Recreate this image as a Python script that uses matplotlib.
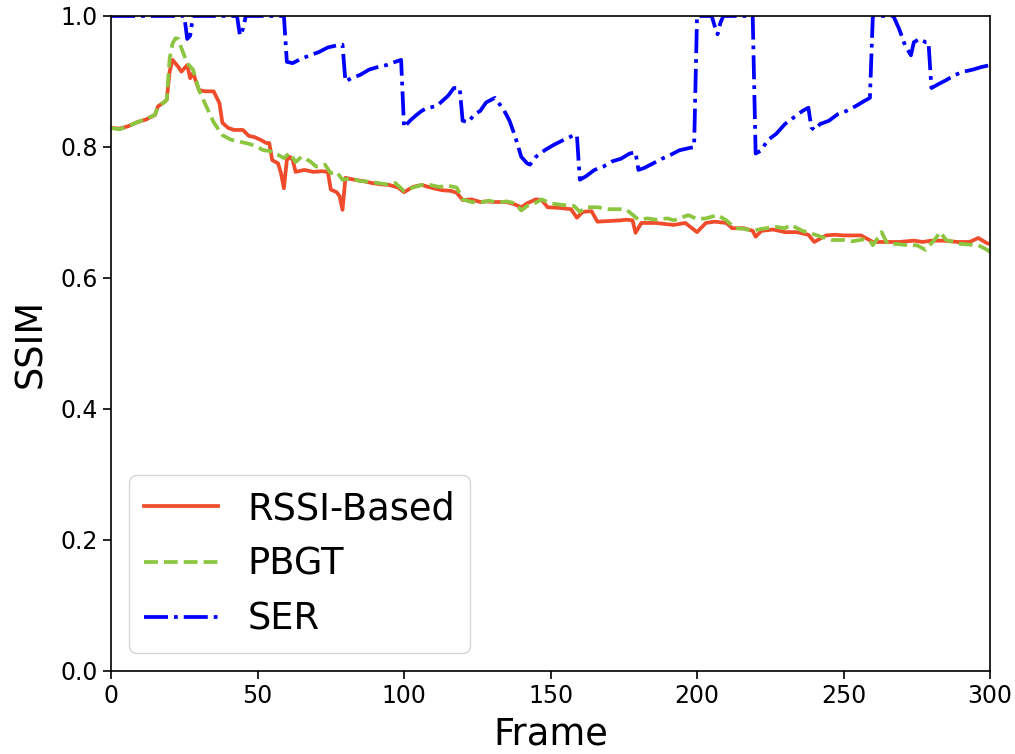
import matplotlib
matplotlib.use("Agg")
import matplotlib.pyplot as plt

# frame index / SSIM samples
rssi_frames = [0, 3, 6, 9, 12, 15, 16, 18, 19, 20, 21, 23, 24, 26, 27, 28, 30, 32, 35, 37,
               38, 40, 42, 45, 47, 49, 51, 53, 54, 55, 57, 58, 59, 60, 61, 62, 63, 66, 69, 72,
               74, 75, 77, 78, 79, 80, 83, 86, 89, 92, 95, 98, 100, 103, 106, 110, 113, 116, 118, 120,
               123, 126, 128, 131, 135, 138, 140, 142, 145, 147, 149, 153, 157, 159, 161, 164, 166, 170, 174, 176,
               178, 179, 181, 186, 192, 196, 200, 203, 206, 210, 212, 216, 219, 220, 222, 226, 230, 234, 238, 240,
               244, 247, 250, 256, 260, 265, 269, 274, 277, 280, 284, 289, 293, 296, 299, 300]
rssi_ssim = [0.829, 0.828, 0.832, 0.838, 0.842, 0.849, 0.862, 0.868, 0.872, 0.915, 0.933, 0.922, 0.915, 0.925, 0.905, 0.913, 0.887, 0.885, 0.885, 0.867,
             0.837, 0.829, 0.826, 0.826, 0.817, 0.815, 0.811, 0.806, 0.806, 0.780, 0.775, 0.760, 0.737, 0.780, 0.785, 0.780, 0.762, 0.765, 0.762, 0.763,
             0.762, 0.735, 0.731, 0.725, 0.704, 0.753, 0.750, 0.748, 0.745, 0.743, 0.742, 0.738, 0.731, 0.739, 0.742, 0.737, 0.734, 0.733, 0.730, 0.719,
             0.720, 0.716, 0.717, 0.716, 0.716, 0.712, 0.708, 0.714, 0.720, 0.719, 0.708, 0.707, 0.705, 0.692, 0.701, 0.702, 0.686, 0.687, 0.688, 0.689,
             0.688, 0.669, 0.684, 0.684, 0.681, 0.684, 0.670, 0.684, 0.686, 0.684, 0.676, 0.676, 0.672, 0.663, 0.672, 0.674, 0.670, 0.670, 0.666, 0.655,
             0.665, 0.666, 0.665, 0.665, 0.655, 0.655, 0.655, 0.657, 0.655, 0.657, 0.657, 0.655, 0.655, 0.661, 0.653, 0.652]

pbgt_frames = [0, 3, 6, 9, 12, 15, 16, 18, 19, 20, 21, 22, 23, 24, 26, 28, 30, 32, 35, 38,
               41, 44, 47, 50, 52, 54, 57, 59, 61, 63, 65, 68, 70, 73, 75, 77, 79, 82, 85, 88,
               91, 94, 97, 100, 103, 106, 109, 112, 115, 118, 120, 123, 126, 129, 132, 135, 138, 140, 142, 145,
               147, 150, 153, 158, 160, 162, 166, 170, 174, 176, 180, 183, 186, 190, 192, 197, 200, 203, 207, 210,
               213, 216, 219, 222, 227, 230, 232, 236, 239, 243, 246, 250, 253, 257, 259, 260, 263, 265, 268, 272,
               275, 278, 281, 283, 285, 290, 296, 299, 300]
pbgt_ssim = [0.829, 0.827, 0.832, 0.838, 0.843, 0.849, 0.862, 0.868, 0.872, 0.935, 0.958, 0.966, 0.965, 0.951, 0.928, 0.918, 0.887, 0.867, 0.838, 0.818,
             0.811, 0.808, 0.805, 0.800, 0.795, 0.794, 0.788, 0.783, 0.791, 0.777, 0.785, 0.778, 0.770, 0.773, 0.760, 0.762, 0.750, 0.752, 0.748, 0.747,
             0.745, 0.743, 0.745, 0.733, 0.738, 0.742, 0.742, 0.739, 0.741, 0.738, 0.720, 0.716, 0.715, 0.718, 0.715, 0.717, 0.714, 0.703, 0.710, 0.715,
             0.720, 0.714, 0.712, 0.710, 0.701, 0.708, 0.708, 0.705, 0.705, 0.704, 0.689, 0.691, 0.689, 0.691, 0.688, 0.696, 0.690, 0.691, 0.696, 0.688,
             0.676, 0.675, 0.672, 0.675, 0.678, 0.676, 0.681, 0.672, 0.668, 0.662, 0.658, 0.658, 0.656, 0.659, 0.657, 0.650, 0.670, 0.652, 0.652, 0.650,
             0.650, 0.643, 0.658, 0.670, 0.658, 0.652, 0.650, 0.643, 0.640]

ser_frames = [0, 25, 26, 27, 28, 43, 44, 45, 46, 59, 60, 62, 65, 68, 71, 74, 77, 79, 80, 82,
              85, 88, 91, 94, 97, 99, 100, 102, 104, 106, 108, 111, 113, 115, 117, 119, 120, 122, 124, 126,
              128, 131, 134, 136, 138, 140, 142, 143, 145, 148, 151, 155, 158, 159, 160, 162, 165, 168, 171, 174,
              177, 179, 180, 182, 185, 188, 191, 194, 197, 199, 200, 205, 206, 207, 208, 209, 219, 220, 222, 224,
              227, 230, 233, 236, 238, 239, 240, 242, 245, 248, 251, 254, 257, 259, 260, 267, 269, 271, 273, 274,
              276, 278, 279, 280, 282, 285, 288, 291, 294, 297, 300]
ser_ssim = [1.0, 1.0, 0.965, 0.970, 1.0, 1.0, 0.970, 0.980, 1.0, 1.0, 0.930, 0.928, 0.935, 0.940, 0.945, 0.952, 0.955, 0.956, 0.900, 0.905,
            0.910, 0.918, 0.922, 0.925, 0.930, 0.933, 0.830, 0.840, 0.848, 0.855, 0.860, 0.862, 0.870, 0.878, 0.890, 0.890, 0.840, 0.838, 0.850, 0.855,
            0.868, 0.875, 0.857, 0.840, 0.815, 0.785, 0.775, 0.773, 0.785, 0.795, 0.803, 0.812, 0.818, 0.818, 0.750, 0.755, 0.765, 0.770, 0.778, 0.782,
            0.790, 0.792, 0.765, 0.768, 0.775, 0.782, 0.788, 0.795, 0.798, 0.800, 1.0, 1.0, 0.985, 0.972, 0.990, 1.0, 1.0, 0.790, 0.795, 0.810,
            0.820, 0.835, 0.845, 0.855, 0.860, 0.830, 0.826, 0.835, 0.840, 0.850, 0.855, 0.862, 0.870, 0.875, 1.0, 1.0, 0.980, 0.955, 0.940, 0.960,
            0.965, 0.960, 0.960, 0.890, 0.895, 0.902, 0.910, 0.915, 0.918, 0.922, 0.925]

fig = plt.figure(figsize=(10.15, 7.54), dpi=100)
ax = fig.add_axes([0.1094, 0.1101, 0.866, 0.8687])

ax.plot(rssi_frames, rssi_ssim, color='#F04B2B', lw=2.7, label='RSSI-Based')
ax.plot(pbgt_frames, pbgt_ssim, color='#8CC540', lw=2.7, ls='--', label='PBGT')
ax.plot(ser_frames, ser_ssim, color='#0000FF', lw=2.7, ls='-.', label='SER')

ax.set_xlim(0, 300)
ax.set_ylim(0, 1.0)
ax.set_xticks([0, 50, 100, 150, 200, 250, 300])
ax.set_yticks([0.0, 0.2, 0.4, 0.6, 0.8, 1.0])
ax.tick_params(labelsize=17, length=6, width=1.2)
for sp in ax.spines.values():
    sp.set_linewidth(1.2)

ax.set_xlabel('Frame', fontsize=26.5, labelpad=5)
ax.set_ylabel('SSIM', fontsize=26.5, labelpad=8)
ax.legend(loc='lower left', fontsize=26.5)

fig.savefig('out.png', dpi=100)
